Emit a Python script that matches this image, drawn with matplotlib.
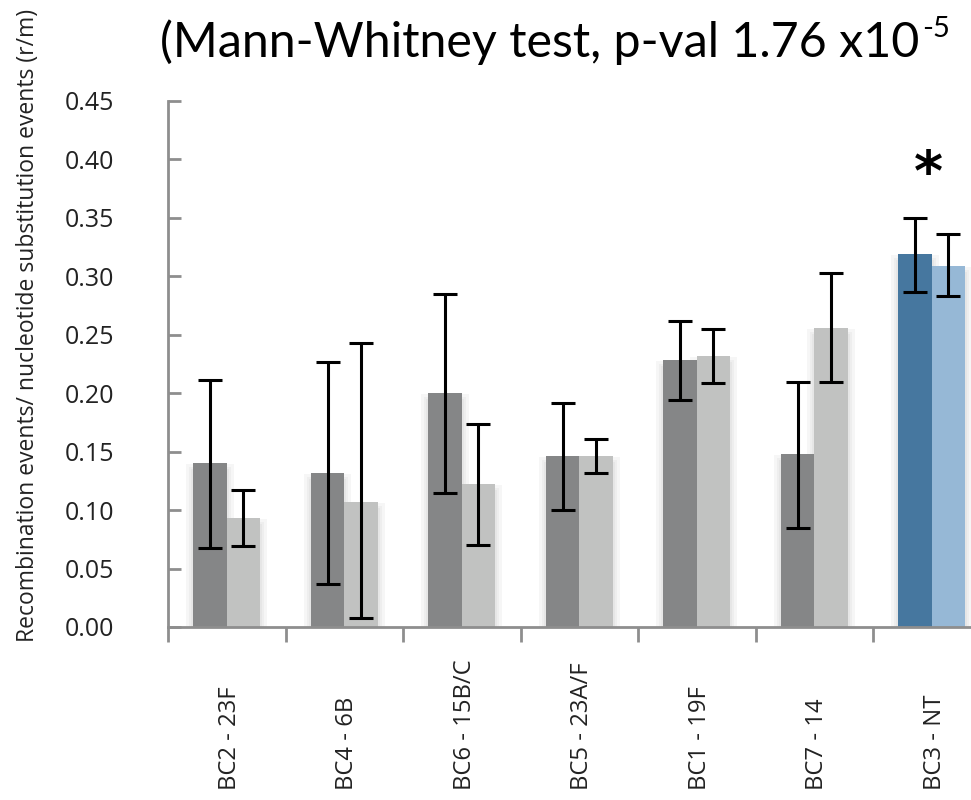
import matplotlib
matplotlib.use("Agg")
import matplotlib.pyplot as plt
import matplotlib.transforms as mtransforms
from matplotlib.patches import Rectangle
import numpy as np

# Data
categories = ["BC2 - 23F", "BC4 - 6B", "BC6 - 15B/C", "BC5 - 23A/F",
              "BC1 - 19F", "BC7 - 14", "BC3 - NT"]
dark_vals = [0.140, 0.132, 0.200, 0.146, 0.228, 0.148, 0.319]
dark_err_lo = [0.068, 0.037, 0.115, 0.100, 0.194, 0.085, 0.287]
dark_err_hi = [0.211, 0.227, 0.285, 0.192, 0.262, 0.210, 0.350]
light_vals = [0.093, 0.107, 0.122, 0.146, 0.232, 0.256, 0.309]
light_err_lo = [0.069, 0.008, 0.070, 0.132, 0.209, 0.210, 0.283]
light_err_hi = [0.117, 0.243, 0.174, 0.161, 0.255, 0.303, 0.336]
yticks = [0.00, 0.05, 0.10, 0.15, 0.20, 0.25, 0.30, 0.35, 0.40, 0.45]

W, H, DPI = 971, 800, 100
fig = plt.figure(figsize=(W / DPI, H / DPI), dpi=DPI)
fig.patch.set_facecolor("white")

# axes run past the right edge of the canvas
ax_left, ax_right = 168 / W, 990.5 / W
ax_bottom, ax_top = (H - 627) / H, (H - 101) / H
ax = fig.add_axes([ax_left, ax_bottom, ax_right - ax_left, ax_top - ax_bottom])
ax.set_xlim(0, len(categories))
ax.set_ylim(0, 0.45)

grey_axis = "#8e8e8e"
for s in ["top", "right"]:
    ax.spines[s].set_visible(False)
for s in ["left", "bottom"]:
    ax.spines[s].set_color(grey_axis)
    ax.spines[s].set_linewidth(2.0)

w = 0.285
px_x = 1 / 117.5          # one pixel in x data units
px_y = 0.45 / 526         # one pixel in y data units

dark_cols = ["#858687"] * 6 + ["#46779f"]
light_cols = ["#c1c2c1"] * 6 + ["#96b8d6"]

centers = np.arange(len(categories)) + 0.5

def soft_shadow(x0, width, h):
    for grow, col in [(7, "#f6f6f6"), (4, "#eeeeee"), (2, "#e6e6e6")]:
        ax.add_patch(Rectangle((x0 - grow * px_x, 0), width + 2 * grow * px_x,
                               h - (8 - grow) * px_y, facecolor=col,
                               edgecolor="none", zorder=1))

for i, c in enumerate(centers):
    soft_shadow(c - w, w, dark_vals[i])
    soft_shadow(c, w, light_vals[i])

ax.bar(centers - w / 2, dark_vals, width=w, color=dark_cols, zorder=2, linewidth=0)
ax.bar(centers + w / 2, light_vals, width=w, color=light_cols, zorder=2, linewidth=0)

d_err = [np.array(dark_vals) - np.array(dark_err_lo), np.array(dark_err_hi) - np.array(dark_vals)]
l_err = [np.array(light_vals) - np.array(light_err_lo), np.array(light_err_hi) - np.array(light_vals)]
ekw = dict(fmt="none", ecolor="black", elinewidth=2.2, capsize=8.5, capthick=2.2, zorder=3)
ax.errorbar(centers - w / 2, dark_vals, yerr=d_err, **ekw)
ax.errorbar(centers + w / 2, light_vals, yerr=l_err, **ekw)

# y axis ticks
ax.set_yticks(yticks)
ax.set_yticklabels([f"{t:.2f}" for t in yticks], fontfamily="Open Sans",
                   fontsize=18, color="#222222")
ax.tick_params(axis="y", direction="in", length=9.5, width=2.0, color=grey_axis, pad=39)

# x axis ticks at group boundaries, labels drawn rotated below
ax.set_xticks(np.arange(len(categories) + 1))
ax.set_xticklabels([])
ax.tick_params(axis="x", direction="out", length=11, width=2.0, color=grey_axis)

tr = mtransforms.blended_transform_factory(ax.transData, fig.transFigure)
for c, lab in zip(centers, categories):
    ax.text(c + 3 * px_x, (H - 790) / H, lab, rotation=90, ha="center", va="bottom",
            fontfamily="Open Sans", fontsize=17.2, color="#222222", transform=tr)

# significance marker and pointer
ax.text(centers[-1] - 3 * px_x, 0.387, "*", ha="center", va="center",
        fontsize=40, fontweight="bold", color="black")
ax.annotate("", xy=(centers[-1] + w + 2 * px_x, light_vals[-1]),
            xytext=(centers[-1] + w + 40 * px_x, light_vals[-1]),
            arrowprops=dict(arrowstyle="->", color="#8e8e8e", lw=1.6),
            annotation_clip=False)

fig.text(28 / W, (H - 642) / H,
         "Recombination events/ nucleotide substitution events (r/m)",
         rotation=90, ha="center", va="bottom", fontfamily="Open Sans",
         fontsize=16.5, color="#222222")

# title with superscript exponent
renderer = fig.canvas.get_renderer()
t_main = fig.text(160 / W, (H - 57) / H, "(Mann-Whitney test, p-val 1.76 x10",
                  ha="left", va="baseline", fontfamily="Lato", fontsize=34.8,
                  color="black")
bb = t_main.get_window_extent(renderer=renderer)
fig.text((bb.x1 + 3) / W, (H - 37) / H, "-5", ha="left", va="baseline",
         fontfamily="Lato", fontsize=21, color="black")

fig.savefig("out.png", dpi=DPI)
